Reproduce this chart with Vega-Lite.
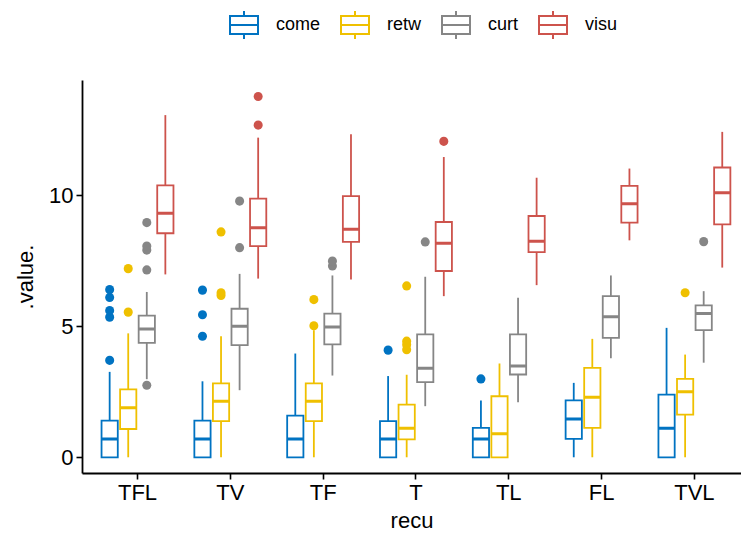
{
  "$schema": "https://vega.github.io/schema/vega-lite/v6.json",
  "width": 659,
  "height": 393,
  "autosize": "none",
  "padding": {"left": 82, "top": 80, "right": 0, "bottom": 67},
  "background": "white",
  "config": {
    "view": {"stroke": null},
    "font": "Liberation Sans",
    "axis": {
      "grid": false,
      "domainColor": "black",
      "domainWidth": 1.8,
      "tickColor": "black",
      "tickWidth": 1.6,
      "tickSize": 6,
      "labelColor": "black",
      "labelFontSize": 22,
      "labelFont": "Liberation Sans",
      "titleColor": "black",
      "titleFontSize": 22,
      "titleFont": "Liberation Sans",
      "titleFontWeight": "normal"
    }
  },
  "datasets": {
    "boxes": [
      {"recu": "TFL", "group": "come", "lower": 0, "q1": 0, "median": 0.70, "q3": 1.40, "upper": 3.26},
      {"recu": "TFL", "group": "retw", "lower": 0, "q1": 1.08, "median": 1.89, "q3": 2.59, "upper": 4.73},
      {"recu": "TFL", "group": "curt", "lower": 2.98, "q1": 4.37, "median": 4.90, "q3": 5.41, "upper": 6.31},
      {"recu": "TFL", "group": "visu", "lower": 6.98, "q1": 8.55, "median": 9.31, "q3": 10.38, "upper": 13.06},
      {"recu": "TV", "group": "come", "lower": 0, "q1": 0, "median": 0.70, "q3": 1.40, "upper": 2.90},
      {"recu": "TV", "group": "retw", "lower": 0, "q1": 1.38, "median": 2.14, "q3": 2.82, "upper": 4.62},
      {"recu": "TV", "group": "curt", "lower": 2.56, "q1": 4.28, "median": 5.00, "q3": 5.67, "upper": 7.00},
      {"recu": "TV", "group": "visu", "lower": 6.82, "q1": 8.06, "median": 8.76, "q3": 9.87, "upper": 12.20},
      {"recu": "TF", "group": "come", "lower": 0, "q1": 0, "median": 0.70, "q3": 1.59, "upper": 3.96},
      {"recu": "TF", "group": "retw", "lower": 0, "q1": 1.38, "median": 2.14, "q3": 2.82, "upper": 4.85},
      {"recu": "TF", "group": "curt", "lower": 3.12, "q1": 4.31, "median": 4.97, "q3": 5.48, "upper": 6.94},
      {"recu": "TF", "group": "visu", "lower": 6.79, "q1": 8.22, "median": 8.70, "q3": 9.97, "upper": 12.33},
      {"recu": "T", "group": "come", "lower": 0, "q1": 0, "median": 0.70, "q3": 1.38, "upper": 3.10},
      {"recu": "T", "group": "retw", "lower": 0, "q1": 0.68, "median": 1.11, "q3": 2.01, "upper": 3.15},
      {"recu": "T", "group": "curt", "lower": 1.95, "q1": 2.87, "median": 3.40, "q3": 4.69, "upper": 6.89},
      {"recu": "T", "group": "visu", "lower": 6.15, "q1": 7.11, "median": 8.17, "q3": 8.98, "upper": 11.46},
      {"recu": "TL", "group": "come", "lower": 0, "q1": 0, "median": 0.70, "q3": 1.12, "upper": 2.17},
      {"recu": "TL", "group": "retw", "lower": 0, "q1": 0, "median": 0.90, "q3": 2.33, "upper": 3.58},
      {"recu": "TL", "group": "curt", "lower": 2.10, "q1": 3.16, "median": 3.48, "q3": 4.69, "upper": 6.09},
      {"recu": "TL", "group": "visu", "lower": 6.57, "q1": 7.83, "median": 8.25, "q3": 9.21, "upper": 10.67},
      {"recu": "FL", "group": "come", "lower": 0, "q1": 0.70, "median": 1.46, "q3": 2.17, "upper": 2.84},
      {"recu": "FL", "group": "retw", "lower": 0, "q1": 1.12, "median": 2.29, "q3": 3.41, "upper": 4.52},
      {"recu": "FL", "group": "curt", "lower": 3.78, "q1": 4.56, "median": 5.36, "q3": 6.15, "upper": 6.94},
      {"recu": "FL", "group": "visu", "lower": 8.28, "q1": 8.96, "median": 9.68, "q3": 10.36, "upper": 11.02},
      {"recu": "TVL", "group": "come", "lower": 0, "q1": 0, "median": 1.11, "q3": 2.39, "upper": 4.94},
      {"recu": "TVL", "group": "retw", "lower": 0, "q1": 1.63, "median": 2.50, "q3": 2.99, "upper": 3.92},
      {"recu": "TVL", "group": "curt", "lower": 3.61, "q1": 4.85, "median": 5.49, "q3": 5.80, "upper": 6.34},
      {"recu": "TVL", "group": "visu", "lower": 7.24, "q1": 8.89, "median": 10.10, "q3": 11.06, "upper": 12.42}
    ],
    "outliers": [
      {"recu": "TFL", "group": "come", "value": 3.70},
      {"recu": "TFL", "group": "come", "value": 5.35},
      {"recu": "TFL", "group": "come", "value": 5.60},
      {"recu": "TFL", "group": "come", "value": 6.10},
      {"recu": "TFL", "group": "come", "value": 6.40},
      {"recu": "TFL", "group": "retw", "value": 5.54},
      {"recu": "TFL", "group": "retw", "value": 7.20},
      {"recu": "TFL", "group": "curt", "value": 2.75},
      {"recu": "TFL", "group": "curt", "value": 7.15},
      {"recu": "TFL", "group": "curt", "value": 7.91},
      {"recu": "TFL", "group": "curt", "value": 8.06},
      {"recu": "TFL", "group": "curt", "value": 8.96},
      {"recu": "TV", "group": "come", "value": 4.62},
      {"recu": "TV", "group": "come", "value": 5.44},
      {"recu": "TV", "group": "come", "value": 6.38},
      {"recu": "TV", "group": "retw", "value": 6.18},
      {"recu": "TV", "group": "retw", "value": 6.28},
      {"recu": "TV", "group": "retw", "value": 8.60},
      {"recu": "TV", "group": "curt", "value": 8.00},
      {"recu": "TV", "group": "curt", "value": 9.78},
      {"recu": "TV", "group": "visu", "value": 12.68},
      {"recu": "TV", "group": "visu", "value": 13.77},
      {"recu": "TF", "group": "retw", "value": 5.02},
      {"recu": "TF", "group": "retw", "value": 6.02},
      {"recu": "TF", "group": "curt", "value": 7.30},
      {"recu": "TF", "group": "curt", "value": 7.49},
      {"recu": "T", "group": "come", "value": 4.09},
      {"recu": "T", "group": "retw", "value": 4.11},
      {"recu": "T", "group": "retw", "value": 4.30},
      {"recu": "T", "group": "retw", "value": 4.43},
      {"recu": "T", "group": "retw", "value": 6.54},
      {"recu": "T", "group": "curt", "value": 8.22},
      {"recu": "T", "group": "visu", "value": 12.06},
      {"recu": "TL", "group": "come", "value": 2.99},
      {"recu": "TVL", "group": "retw", "value": 6.28},
      {"recu": "TVL", "group": "curt", "value": 8.23}
    ]
  },
  "encoding": {
    "x": {
      "field": "recu",
      "type": "nominal",
      "title": "recu",
      "sort": ["TFL", "TV", "TF", "T", "TL", "FL", "TVL"],
      "scale": {"domain": ["TFL", "TV", "TF", "T", "TL", "FL", "TVL"], "paddingInner": 0.2, "paddingOuter": 0.15, "align": 0.66},
      "axis": {"labelAngle": 0, "labelPadding": 3, "titlePadding": 7}
    },
    "xOffset": {
      "field": "group",
      "type": "nominal",
      "scale": {"domain": ["come", "retw", "curt", "visu"], "paddingInner": 0.125, "paddingOuter": 0.0625}
    },
    "stroke": {
      "field": "group",
      "type": "nominal",
      "scale": {"domain": ["come", "retw", "curt", "visu"], "range": ["#0073C2", "#EFC000", "#868686", "#CD534C"]},
      "legend": {
        "title": null,
        "orient": "none",
        "legendX": 147,
        "legendY": -70,
        "direction": "horizontal",
        "symbolType": "M-1,-0.65H1V0.65H-1Z M-1,0H1 M0,-0.65V-1 M0,0.65V1",
        "symbolSize": 784,
        "symbolStrokeWidth": 2,
        "symbolFillColor": "white",
        "symbolOpacity": 1,
        "labelFontSize": 18,
        "labelColor": "black",
        "labelFont": "Liberation Sans",
        "labelOffset": 17,
        "columnPadding": 16
      }
    }
  },
  "layer": [
    {
      "data": {"name": "boxes"},
      "mark": {"type": "rule", "strokeWidth": 1.8},
      "encoding": {
        "y": {
          "field": "lower",
          "type": "quantitative",
          "title": ".value.",
          "scale": {"domain": [-0.6, 14.4], "nice": false, "zero": false},
          "axis": {"values": [0, 5, 10], "labelPadding": 3, "titlePadding": 11}
        },
        "y2": {"field": "upper"}
      }
    },
    {
      "data": {"name": "boxes"},
      "mark": {"type": "bar", "fill": "white", "strokeWidth": 1.8},
      "encoding": {
        "y": {"field": "q1", "type": "quantitative"},
        "y2": {"field": "q3"}
      }
    },
    {
      "data": {"name": "boxes"},
      "mark": {"type": "bar", "fill": "white", "strokeWidth": 3},
      "encoding": {
        "y": {"field": "median", "type": "quantitative"},
        "y2": {"field": "median"}
      }
    },
    {
      "data": {"name": "outliers"},
      "mark": {"type": "point", "shape": "M0,-0.02L0,0.02", "filled": false, "size": 100, "strokeWidth": 9, "strokeCap": "round", "opacity": 1},
      "encoding": {
        "y": {"field": "value", "type": "quantitative"}
      }
    }
  ]
}
